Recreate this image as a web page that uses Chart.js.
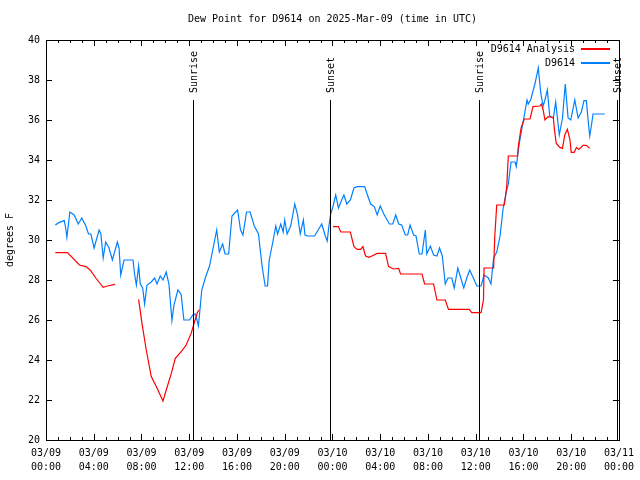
<!DOCTYPE html>
<html>
<head>
<meta charset="utf-8">
<script src="https://cdn.jsdelivr.net/npm/chart.js@4/dist/chart.umd.min.js"></script>
<style>
  html,body{margin:0;padding:0;background:#fff;}
  #c{display:block;}
</style>
</head>
<body>
<canvas id="c" width="640" height="480"></canvas>
<script>
// hours since 03/09 00:00 UTC
const obsHours = [0.78,1.11,1.53,1.65,1.75,2.0,2.36,2.7,3.0,3.34,3.56,3.76,4.03,4.45,4.6,4.79,5.0,5.28,5.56,5.98,6.12,6.26,6.54,7.29,7.43,7.57,7.76,7.9,8.1,8.26,8.46,8.82,9.1,9.3,9.57,9.8,10.07,10.3,10.55,10.72,11.05,11.2,11.33,11.55,12.02,12.3,12.52,12.77,13.05,13.2,13.4,13.7,13.97,14.3,14.52,14.8,15.0,15.3,15.58,16.05,16.3,16.5,16.8,17.1,17.45,17.8,18.1,18.36,18.56,18.7,18.97,19.25,19.4,19.67,19.87,20.0,20.2,20.5,20.84,21.06,21.3,21.56,21.7,21.9,22.5,23.1,23.4,23.56,23.7,23.85,24.04,24.27,24.5,24.7,24.96,25.2,25.5,25.8,26.07,26.7,26.9,27.2,27.5,27.75,28.0,28.3,28.77,29.05,29.3,29.55,29.8,30.1,30.3,30.5,30.8,31.0,31.27,31.5,31.78,31.9,32.2,32.47,32.75,32.97,33.2,33.45,33.67,34.0,34.2,34.5,34.7,35.0,35.25,35.5,35.8,36.1,36.45,36.7,37.06,37.28,37.5,37.76,38.04,38.3,38.6,38.73,38.96,39.3,39.4,39.57,39.7,39.85,40.0,40.3,40.4,40.6,40.96,41.24,41.46,41.65,41.8,42.0,42.2,42.5,42.7,43.0,43.27,43.5,43.74,43.96,44.3,44.58,44.85,45.07,45.27,45.4,45.55,45.7,45.83,46.8];
const obsDew = [30.75,30.88,30.97,30.6,30.13,31.4,31.25,30.8,31.1,30.7,30.3,30.3,29.6,30.5,30.3,29.1,29.9,29.6,29.0,29.9,29.6,28.25,29.0,29.0,28.25,27.75,28.7,27.8,27.6,26.8,27.75,27.9,28.1,27.8,28.2,28.0,28.4,27.8,25.97,26.75,27.5,27.4,27.25,26.0,26.0,26.25,26.3,25.7,27.5,27.8,28.2,28.7,29.5,30.5,29.4,29.8,29.3,29.3,31.2,31.5,30.5,30.25,31.4,31.4,30.7,30.3,28.7,27.7,27.7,29.0,29.8,30.7,30.3,30.8,30.4,31.0,30.3,30.7,31.8,31.3,30.3,31.0,30.25,30.2,30.2,30.8,30.2,29.95,30.7,31.3,31.67,32.25,31.6,31.9,32.25,31.8,32.0,32.6,32.67,32.67,32.3,31.8,31.67,31.25,31.7,31.3,30.8,30.8,31.25,30.8,30.75,30.25,30.25,30.75,30.25,30.2,29.3,29.3,30.5,29.3,29.7,29.25,29.2,29.6,29.2,27.8,28.1,28.1,27.6,28.6,28.2,27.6,28.1,28.5,28.1,27.7,27.7,28.25,28.1,27.8,29.1,29.4,30.2,31.6,32.5,32.8,33.9,33.9,33.67,34.5,35.0,35.5,36.0,37.0,36.8,37.0,37.8,38.6,37.3,36.7,37.0,37.5,36.2,36.1,36.9,35.25,36.1,37.8,36.1,36.0,37.0,36.1,36.4,36.97,36.97,36.1,35.2,35.75,36.3,36.3];

// analysis series, null = no data
const anaHours = [0.78,1.8,2.8,3.34,3.7,4.17,4.79,5.15,5.79,6.5,7.76,8.04,8.4,8.82,9.24,9.8,10.2,10.5,10.83,11.33,11.74,12.16,12.44,12.7,12.83,18,24.04,24.5,24.7,25.5,25.8,26.07,26.35,26.55,26.77,27.05,27.3,27.75,28.45,28.7,29.13,29.55,29.7,31.5,31.72,32.47,32.75,33.45,33.72,35.45,35.67,36.45,36.65,36.7,37.5,37.6,37.76,38.4,38.6,38.73,39.5,39.57,39.8,40.07,40.55,40.8,41.37,41.5,41.65,41.8,42.07,42.5,42.6,42.75,43.05,43.27,43.46,43.68,43.9,44.0,44.25,44.44,44.63,45.0,45.27,45.55];
const anaDew = [29.37,29.37,28.75,28.67,28.5,28.1,27.63,27.7,27.78,null,27.03,25.83,24.5,23.17,22.67,21.95,22.75,23.33,24.08,24.42,24.75,25.33,25.9,26.4,26.5,null,30.67,30.67,30.4,30.4,29.67,29.53,29.53,29.67,29.2,29.13,29.2,29.33,29.33,28.67,28.55,28.58,28.3,28.3,27.8,27.8,27.0,27.0,26.53,26.53,26.37,26.37,27.0,28.6,28.6,30.2,31.75,31.75,32.67,34.2,34.2,34.67,35.6,36.05,36.05,36.67,36.7,36.8,36.5,36.0,36.17,36.13,35.5,34.83,34.63,34.58,35.25,35.53,35.0,34.38,34.38,34.63,34.53,34.73,34.73,34.58];

const seriesNames = ["D9614 Analysis", "D9614"];
const seriesColors = ["#ff0000", "#0080ff"];

const sunLabels = ["Sunrise","Sunset","Sunrise","Sunset"];
const sunHours = [12.3,23.83,36.27,47.83];

const FONT = "'DejaVu Sans Mono', monospace";

function pts(xs, ys){ return xs.map((x,i)=>({x:x, y:ys[i]})); }

function tickLabel(h){
  if(h % 4 !== 0) return "";
  const day = 9 + Math.floor(h/24);
  const hh = h % 24;
  return ["03/" + String(day).padStart(2,"0"), String(hh).padStart(2,"0") + ":00"];
}

// -------- DECOR (frame, tics, sun lines, legend, titles) --------
const decor = {
  id: "decor",
  afterDraw(chart){
    const ctx = chart.ctx, a = chart.chartArea;
    const xs = chart.scales.x, ys = chart.scales.y;
    ctx.save();
    ctx.strokeStyle = "#000";
    ctx.lineWidth = 1;

    // tics
    ctx.beginPath();
    for(let h=0; h<=48; h++){
      const x = Math.round(xs.getPixelForValue(h)) + 0.5;
      const len = h % 4 === 0 ? 6 : 3;
      ctx.moveTo(x, a.bottom); ctx.lineTo(x, a.bottom - len);
      ctx.moveTo(x, a.top); ctx.lineTo(x, a.top + len);
    }
    for(let v=20; v<=40; v+=2){
      const y = Math.round(ys.getPixelForValue(v)) + 0.5;
      ctx.moveTo(a.left, y); ctx.lineTo(a.left + 6, y);
      ctx.moveTo(a.right, y); ctx.lineTo(a.right - 6, y);
    }
    ctx.stroke();

    // frame
    ctx.strokeRect(Math.round(a.left)+0.5, Math.round(a.top)+0.5,
                   Math.round(a.right-a.left), Math.round(a.bottom-a.top));

    // sunrise / sunset
    ctx.font = "10px " + FONT;
    ctx.fillStyle = "#000";
    const yTop = ys.getPixelForValue(37);
    sunHours.forEach((h,i)=>{
      const x = Math.round(xs.getPixelForValue(h));
      ctx.fillRect(x, yTop, 1, a.bottom - yTop);
      ctx.save();
      ctx.translate(x + 1.5, yTop - 7);
      ctx.rotate(-Math.PI/2);
      ctx.textAlign = "left";
      ctx.textBaseline = "middle";
      ctx.fillText(sunLabels[i], 0, 0);
      ctx.restore();
    });

    // legend
    ctx.textAlign = "right";
    ctx.textBaseline = "middle";
    for(let i=0; i<seriesNames.length; i++){
      const y = 49 + i*14;
      ctx.fillStyle = "#000";
      ctx.fillText(seriesNames[i], 575, y);
      ctx.fillStyle = seriesColors[i];
      ctx.fillRect(581, y - 1, 29, 2);
    }

    // title
    ctx.fillStyle = "#000";
    ctx.textAlign = "center";
    ctx.fillText("Dew Point for D9614 on 2025-Mar-09 (time in UTC)", (a.left + a.right)/2, 19);

    // y title
    ctx.save();
    ctx.translate(10, (a.top + a.bottom)/2);
    ctx.rotate(-Math.PI/2);
    ctx.fillText("degrees F", 0, 0);
    ctx.restore();

    ctx.restore();
  }
};

new Chart(document.getElementById("c"), {
  type: "line",
  data: {
    datasets: [
      { label: seriesNames[0], data: pts(anaHours, anaDew), borderColor: seriesColors[0],
        borderWidth: 1.2, pointRadius: 0, tension: 0, spanGaps: false },
      { label: seriesNames[1], data: pts(obsHours, obsDew), borderColor: seriesColors[1],
        borderWidth: 1.2, pointRadius: 0, tension: 0 }
    ]
  },
  options: {
    responsive: false,
    animation: false,
    devicePixelRatio: 1,
    layout: { padding: { top: 40, right: 19, left: 0, bottom: 0 } },
    plugins: { legend: { display: false }, title: { display: false }, tooltip: { enabled: false } },
    scales: {
      x: {
        type: "linear", min: 0, max: 48,
        grid: { display: false, drawTicks: false },
        border: { display: false },
        afterFit: s => { s.height = 40; },
        afterBuildTicks: s => { s.ticks = []; for(let h=0; h<=48; h++) s.ticks.push({ value: h }); },
        ticks: {
          autoSkip: false, maxRotation: 0, padding: 6, color: "#000",
          font: { family: FONT, size: 10, lineHeight: 1.4 },
          callback: v => tickLabel(v)
        }
      },
      y: {
        min: 20, max: 40,
        grid: { display: false, drawTicks: false },
        border: { display: false },
        afterFit: s => { s.width = 46; },
        ticks: { stepSize: 2, padding: 6, color: "#000", font: { family: FONT, size: 10 } }
      }
    }
  },
  plugins: [decor]
});
</script>
</body>
</html>
